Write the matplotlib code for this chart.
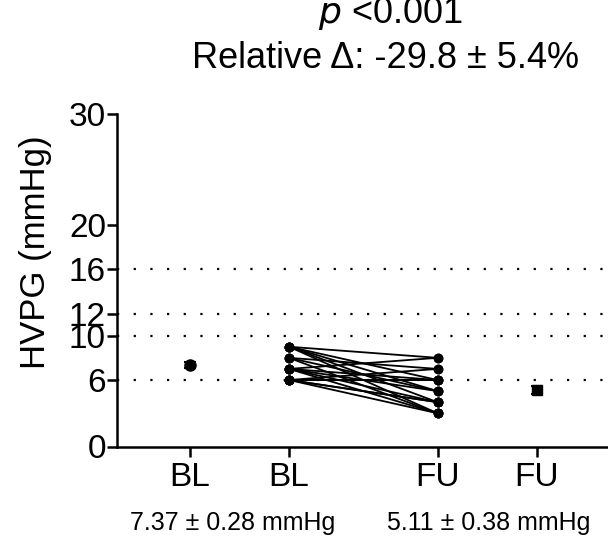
import matplotlib
matplotlib.use("Agg")
import matplotlib.pyplot as plt
import numpy as np

plt.rcParams['font.family'] = ['Liberation Sans', 'DejaVu Sans']

# Data
bl_values = [9, 9, 9, 9, 9, 8, 8, 8, 7, 7, 7, 7, 7, 6, 6, 6, 6, 6, 6]
fu_values = [8, 3, 6, 5, 4, 7, 3, 5, 8, 4, 6, 3, 5, 7, 6, 4, 3, 6, 4]
bl_mean, bl_sem = 7.37, 0.28
fu_mean, fu_sem = 5.11, 0.38
ref_lines = [6, 10, 12, 16]
y_ticks = [0, 6, 10, 12, 16, 20, 30]
x_positions = [1, 2, 3.5, 4.5]
x_labels = ["BL", "BL", "FU", "FU"]
bl_text = "7.37 ± 0.28 mmHg"
fu_text = "5.11 ± 0.38 mmHg"

fig = plt.figure(figsize=(6.08, 5.41), dpi=100)
ax = fig.add_axes([117/608, 94.5/541, 1 - 117/608, (446.5-114)/541])
ax.set_xlim(1 - 73/99, 1 + 418/99)
ax.set_ylim(0, 30)

for y in ref_lines:
    ax.plot([ax.get_xlim()[0], ax.get_xlim()[1]], [y, y], color='black',
            linestyle=(0, (1, 6.5)), linewidth=1.6, dash_capstyle='butt',
            clip_on=False, zorder=1)

for b, f in zip(bl_values, fu_values):
    ax.plot([x_positions[1], x_positions[2]], [b, f], color='black',
            linewidth=1.3, marker='o', markersize=6, zorder=3)

ax.errorbar([x_positions[0]], [bl_mean], yerr=[bl_sem], fmt='o', color='black',
            markersize=8, capsize=4, elinewidth=1.5, capthick=1.5, zorder=4)
ax.errorbar([x_positions[3]], [fu_mean], yerr=[fu_sem], fmt='s', color='black',
            markersize=7.5, capsize=4, elinewidth=1.5, capthick=1.5, zorder=4)

ax.spines['top'].set_visible(False)
ax.spines['right'].set_visible(False)
ax.spines['left'].set_linewidth(1.8)
ax.spines['bottom'].set_linewidth(1.8)
ax.set_yticks(y_ticks)
ax.set_yticklabels([str(t) for t in y_ticks])
ax.set_xticks(x_positions)
ax.set_xticklabels(x_labels)
ax.tick_params(axis='both', labelsize=24, width=1.8, length=7, pad=1, direction='out')
ax.tick_params(axis='x', pad=4)
ax.set_ylabel("HVPG (mmHg)", fontsize=25)
ax.yaxis.set_label_coords(-(117 - 52) / 491, (446.5 - 252) / (446.5 - 114))

fig.text(390/608, 1 - 14/541, r"$\it{p}$ <0.001", fontsize=26, ha='center', va='center')
fig.text(386/608, 1 - 58/541, "Relative Δ: -29.8 ± 5.4%", fontsize=26, ha='center', va='center')

fig.text(233/608, 1 - 523/541, bl_text, fontsize=18, ha='center', va='center')
fig.text(489/608, 1 - 523/541, fu_text, fontsize=18, ha='center', va='center')

fig.savefig("out.png", dpi=100)
